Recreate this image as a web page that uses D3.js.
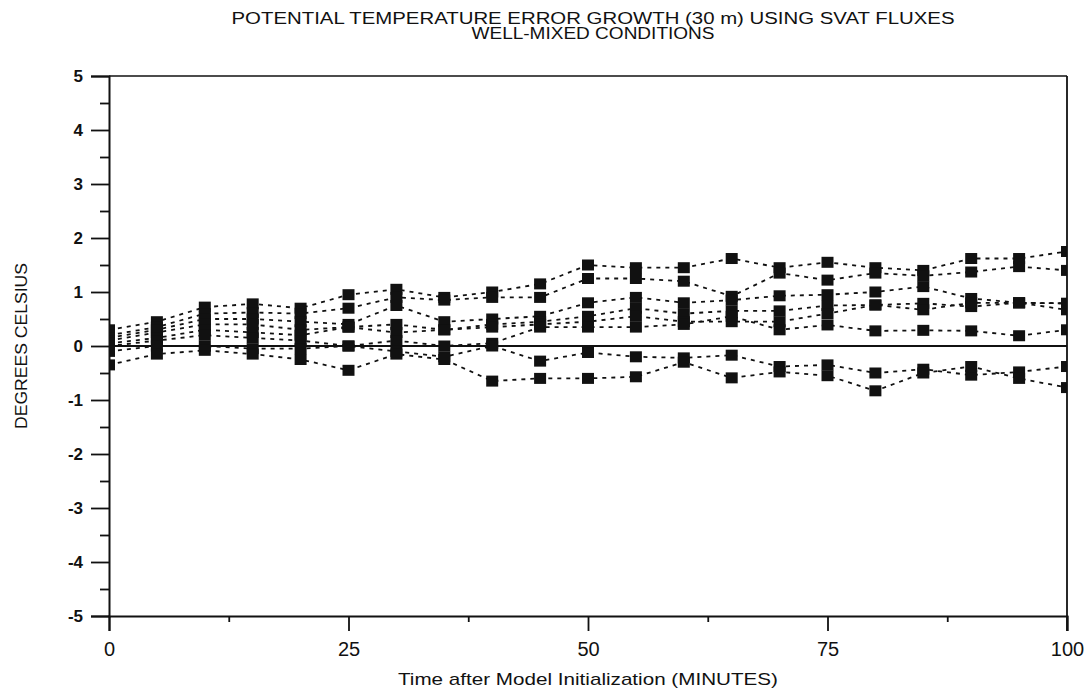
<!DOCTYPE html>
<html lang="en">
<head>
<meta charset="UTF-8">
<title>Potential Temperature Error Growth</title>
<script src="https://d3js.org/d3.v7.min.js"></script>
<style>
    body { margin: 0; background: #fff; font-family: 'Liberation Sans', Arial, sans-serif; }
    .title { font-size: 16px; fill: #111; }
    .axis-title { font-size: 17px; fill: #111; }
    .series { fill: none; stroke: #111; stroke-width: 1.8px; stroke-dasharray: 4,5; }
</style>
</head>
<body>
<div id="chart"></div>
<script>
// minutes after model initialization
const minutes = [0, 5, 10, 15, 20, 25, 30, 35, 40, 45, 50, 55, 60, 65, 70, 75, 80, 85, 90, 95, 100];

// error in degrees celsius, one array per ensemble member
const seriesA = [0.30, 0.45, 0.72, 0.78, 0.70, 0.95, 1.05, 0.90, 1.00, 1.15, 1.50, 1.45, 1.45, 1.62, 1.45, 1.55, 1.45, 1.40, 1.62, 1.62, 1.75];
const seriesB = [0.20, 0.35, 0.60, 0.62, 0.60, 0.70, 0.90, 0.85, 0.90, 0.90, 1.25, 1.25, 1.20, 0.92, 1.35, 1.22, 1.35, 1.30, 1.37, 1.47, 1.40];
const seriesC = [0.15, 0.30, 0.50, 0.50, 0.45, 0.40, 0.75, 0.45, 0.50, 0.55, 0.80, 0.90, 0.80, 0.85, 0.93, 0.95, 1.00, 1.10, 0.88, 0.80, 0.79];
const seriesD = [0.10, 0.25, 0.40, 0.40, 0.30, 0.35, 0.40, 0.30, 0.40, 0.45, 0.55, 0.70, 0.60, 0.65, 0.65, 0.75, 0.76, 0.79, 0.73, 0.80, 0.67];
const seriesE = [0.05, 0.15, 0.30, 0.25, 0.20, 0.35, 0.25, 0.30, 0.35, 0.40, 0.45, 0.55, 0.45, 0.45, 0.45, 0.60, 0.76, 0.67, 0.80, 0.80, 0.79];
const seriesF = [0.00, 0.10, 0.20, 0.15, 0.10, 0.00, 0.10, 0.00, 0.05, 0.35, 0.35, 0.35, 0.40, 0.55, 0.30, 0.39, 0.28, 0.29, 0.28, 0.19, 0.30];
const seriesG = [-0.10, 0.00, 0.00, -0.05, -0.05, 0.00, -0.10, -0.20, 0.00, -0.28, -0.12, -0.20, -0.22, -0.17, -0.38, -0.35, -0.50, -0.43, -0.54, -0.48, -0.38];
const seriesH = [-0.35, -0.15, -0.08, -0.15, -0.25, -0.45, -0.15, -0.25, -0.65, -0.60, -0.60, -0.57, -0.30, -0.59, -0.48, -0.55, -0.83, -0.50, -0.38, -0.60, -0.77];

const allSeries = [seriesA, seriesB, seriesC, seriesD, seriesE, seriesF, seriesG, seriesH];

const yTicks = [-5, -4, -3, -2, -1, 0, 1, 2, 3, 4, 5];
const xTicks = [0, 25, 50, 75, 100];

const titleLines = ["POTENTIAL TEMPERATURE ERROR GROWTH (30 m) USING SVAT FLUXES", "WELL-MIXED CONDITIONS"];
const titleWidths = [723, 243];
const xTitle = "Time after Model Initialization (MINUTES)";
const yTitle = "DEGREES CELSIUS";

const width = 1088, height = 698;
const margin = {top: 76, right: 21, bottom: 82, left: 109};

const svg = d3.select("#chart").append("svg")
    .attr("width", width)
    .attr("height", height);

const x = d3.scaleLinear().domain([0, 100]).range([margin.left, width - margin.right]);
const y = d3.scaleLinear().domain([-5, 5]).range([height - margin.bottom, margin.top]);

// clip for the data
svg.append("clipPath").attr("id", "plotClip")
    .append("rect")
    .attr("x", x(0)).attr("y", y(5))
    .attr("width", x(100) - x(0)).attr("height", y(-5) - y(5));

// frame top and right
svg.append("line")
    .attr("x1", x(0)).attr("x2", x(100)).attr("y1", y(5)).attr("y2", y(5))
    .attr("stroke", "#111").attr("stroke-width", 1.5);
svg.append("line")
    .attr("x1", x(100)).attr("x2", x(100)).attr("y1", y(5)).attr("y2", y(-5) + 15)
    .attr("stroke", "#111").attr("stroke-width", 1.8);

// zero line
svg.append("line")
    .attr("x1", x(0)).attr("x2", x(100)).attr("y1", y(0)).attr("y2", y(0))
    .attr("stroke", "#111").attr("stroke-width", 1.8);

// y axis: major ticks each degree, minor at the halves
const yAxis = svg.append("g")
    .attr("transform", "translate(" + x(0) + ",0)")
    .call(d3.axisLeft(y).tickValues(yTicks).tickSize(18).tickPadding(8).tickFormat(d => String(d)));
svg.append("g")
    .attr("transform", "translate(" + x(0) + ",0)")
    .call(d3.axisLeft(y).tickValues(d3.range(-4.5, 5, 1)).tickSize(9).tickFormat(""))
    .select(".domain").remove();

// x axis
const xAxis = svg.append("g")
    .attr("transform", "translate(0," + y(-5) + ")")
    .call(d3.axisBottom(x).tickValues(xTicks).tickSize(15).tickPadding(11).tickFormat(d => String(d)));
svg.append("g")
    .attr("transform", "translate(0," + y(-5) + ")")
    .call(d3.axisBottom(x).tickValues([12.5, 37.5, 62.5, 87.5]).tickSize(6).tickFormat(""))
    .select(".domain").remove();

svg.selectAll(".domain").attr("stroke", "#111").attr("stroke-width", 2);
svg.selectAll(".tick line").attr("stroke", "#111").attr("stroke-width", 1.8);
yAxis.selectAll(".tick text")
    .style("font-family", "'Liberation Sans', Arial, sans-serif")
    .style("font-size", "17px")
    .style("font-weight", "bold")
    .attr("fill", "#111");
xAxis.selectAll(".tick text")
    .style("font-family", "'Liberation Sans', Arial, sans-serif")
    .style("font-size", "20px")
    .attr("fill", "#111");

// dashed series lines
const line = d3.line()
    .x((d, i) => x(minutes[i]))
    .y(d => y(d));

const plot = svg.append("g").attr("clip-path", "url(#plotClip)");

plot.selectAll("path.series")
    .data(allSeries)
    .enter().append("path")
    .attr("class", "series")
    .attr("d", line);

// square markers
const markerW = 12, markerH = 11;
allSeries.forEach(s => {
    plot.append("g").selectAll("rect")
        .data(s)
        .enter().append("rect")
        .attr("x", (d, i) => x(minutes[i]) - markerW / 2)
        .attr("y", d => y(d) - markerH / 2)
        .attr("width", markerW)
        .attr("height", markerH)
        .attr("fill", "#111");
});

// titles
svg.selectAll("text.title")
    .data(titleLines)
    .enter().append("text")
    .attr("class", "title")
    .attr("x", 593)
    .attr("y", (d, i) => 24 + i * 15)
    .attr("text-anchor", "middle")
    .attr("textLength", (d, i) => titleWidths[i])
    .attr("lengthAdjust", "spacingAndGlyphs")
    .text(d => d);

svg.append("text")
    .attr("class", "axis-title")
    .attr("x", 588)
    .attr("y", 685)
    .attr("text-anchor", "middle")
    .attr("textLength", 380)
    .attr("lengthAdjust", "spacingAndGlyphs")
    .text(xTitle);

svg.append("text")
    .attr("class", "axis-title")
    .attr("transform", "translate(27," + y(0) + ") rotate(-90)")
    .attr("text-anchor", "middle")
    .attr("textLength", 166)
    .attr("lengthAdjust", "spacingAndGlyphs")
    .style("font-size", "16px")
    .text(yTitle);
</script>
</body>
</html>
